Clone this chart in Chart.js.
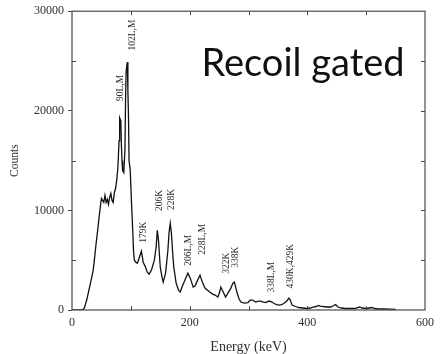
<!DOCTYPE html>
<html>
<head>
<meta charset="utf-8">
<script src="https://cdn.jsdelivr.net/npm/chart.js@4.4.0/dist/chart.umd.min.js"></script>
<style>
  html, body { margin: 0; padding: 0; background: #fff; }
  #wrap { width: 440px; height: 354px; }
</style>
</head>
<body>
<div id="wrap"><canvas id="myChart"></canvas></div>
<script>
// Spectrum: energy (keV) and counts
const energies = [0, 18, 21, 25, 28, 31, 34, 36, 38, 41, 44, 46, 48, 50, 52, 54, 56, 58, 60, 62, 64, 66, 68, 70, 72, 74, 76, 78, 80, 81, 83, 84, 85, 86, 88, 90, 91, 92, 94, 95, 96, 97, 99, 101, 103, 104.5, 106, 108.5, 111, 114, 118, 121, 125, 128, 131, 134, 136, 140, 143, 145, 147, 150, 153, 155, 159, 161, 163, 165, 167, 169, 171, 173, 177, 181, 184, 187, 192, 197, 201, 206, 209, 212, 217.6, 221.5, 226, 230, 234, 239, 243, 248, 251, 253, 257, 261, 265, 270, 273.5, 276, 280.7, 284, 287, 293, 299, 303, 307, 312, 317, 321, 325, 329, 335, 340, 343.5, 348, 352, 356, 360, 365, 368.6, 371, 374, 380, 385, 392, 399, 405, 410, 415, 419, 422, 427, 433, 440, 445, 448, 452, 458, 465, 472, 480, 486, 489, 493, 500, 505, 510, 514, 520, 530, 540, 550];
const counts = [0, 0, 200, 1000, 1800, 2600, 3400, 4000, 5000, 6700, 8200, 9300, 10300, 11200, 11000, 10800, 11500, 10800, 11100, 10600, 11300, 11700, 11000, 10800, 11800, 12200, 13000, 14300, 17000, 19300, 19000, 16500, 15000, 14000, 13800, 16000, 21000, 24000, 24900, 22000, 19500, 15000, 14000, 11000, 8300, 6000, 5000, 4800, 4700, 5200, 5900, 4800, 4300, 3800, 3600, 3900, 4200, 5000, 6300, 8000, 7000, 4300, 3300, 2800, 3700, 4800, 6000, 7800, 8700, 7700, 5800, 4300, 2700, 2000, 1800, 2300, 3000, 3700, 3200, 2300, 2400, 2800, 3500, 2800, 2200, 2000, 1800, 1600, 1500, 1300, 1800, 2300, 1800, 1300, 1700, 2200, 2700, 2800, 1700, 1100, 800, 700, 750, 1000, 1000, 800, 900, 900, 800, 750, 900, 800, 650, 550, 500, 550, 650, 900, 1200, 1000, 500, 350, 250, 200, 150, 200, 300, 350, 450, 400, 350, 300, 300, 450, 550, 300, 200, 150, 150, 150, 250, 300, 200, 150, 200, 250, 150, 100, 100, 80, 60];

// Peak labels and where they sit (energy, counts)
const peakNames = ['90L,M', '102L,M', '179K', '206K', '228K', '206L,M', '228L,M', '322K', '338K', '338L,M', '430K,429K'];
const peakLabelE = [82, 102, 121, 148, 169.5, 198, 221.5, 262, 278.5, 339, 371];
const peakLabelCounts = [22300, 27600, 7800, 11000, 11100, 6000, 7100, 4700, 5300, 3300, 4400];

const xTickValues = [0, 200, 400, 600];
const yTickValues = [0, 10000, 20000, 30000];
const xMarkValues = [100, 200, 300, 400, 500];
const yMarkValues = [5000, 10000, 15000, 20000, 25000];

const axisColor = '#4a4a4a';
const textColor = '#2e2e2e';
const serif = "'Liberation Serif', 'DejaVu Serif', serif";

// frame, inward ticks, peak labels and the big caption
const decorations = {
  id: 'decorations',
  afterDraw(chart) {
    const { ctx, chartArea: a, scales: { x, y } } = chart;
    ctx.save();
    ctx.strokeStyle = axisColor;
    ctx.lineWidth = 1.2;
    ctx.strokeRect(a.left, a.top, a.right - a.left, a.bottom - a.top);

    ctx.lineWidth = 1;
    ctx.beginPath();
    xMarkValues.forEach(v => {
      const px = Math.round(x.getPixelForValue(v)) + 0.5;
      ctx.moveTo(px, a.bottom); ctx.lineTo(px, a.bottom - 4);
      ctx.moveTo(px, a.top); ctx.lineTo(px, a.top + 4);
    });
    yMarkValues.forEach(v => {
      const py = Math.round(y.getPixelForValue(v)) + 0.5;
      ctx.moveTo(a.right, py); ctx.lineTo(a.right - 4, py);
      if (!yTickValues.includes(v)) {
        ctx.moveTo(a.left, py); ctx.lineTo(a.left + 4, py);
      }
    });
    ctx.stroke();

    // peak labels, rotated
    ctx.fillStyle = textColor;
    ctx.font = '9.5px ' + serif;
    ctx.textAlign = 'center';
    ctx.textBaseline = 'middle';
    peakNames.forEach((name, i) => {
      ctx.save();
      ctx.translate(x.getPixelForValue(peakLabelE[i]), y.getPixelForValue(peakLabelCounts[i]));
      ctx.rotate(-Math.PI / 2);
      ctx.fillText(name, 0, 0);
      ctx.restore();
    });

    // caption
    ctx.fillStyle = '#111';
    ctx.font = "38px Lato, 'Open Sans', sans-serif";
    ctx.textAlign = 'left';
    ctx.textBaseline = 'alphabetic';
    ctx.fillText('Recoil gated', x.getPixelForValue(220), y.getPixelForValue(23500));
    ctx.restore();
  }
};

const ctx = document.getElementById('myChart').getContext('2d');
const myChart = new Chart(ctx, {
  type: 'line',
  data: {
    datasets: [{
      data: energies.map((e, i) => ({ x: e, y: counts[i] })),
      borderColor: '#111',
      borderWidth: 1.3,
      pointRadius: 0,
      tension: 0,
      fill: false
    }]
  },
  options: {
    responsive: true,
    maintainAspectRatio: false,
    animation: false,
    layout: { padding: { top: 11, right: 10, left: 0, bottom: 0 } },
    plugins: {
      legend: { display: false },
      tooltip: { enabled: false }
    },
    scales: {
      x: {
        type: 'linear',
        min: 0,
        max: 600,
        border: { display: false },
        grid: { drawOnChartArea: false, drawTicks: false },
        afterBuildTicks: s => { s.ticks = xTickValues.map(v => ({ value: v })); },
        afterFit: s => { s.height = 44; },
        ticks: {
          padding: 6,
          color: textColor,
          maxRotation: 0,
          callback: v => String(v),
          font: { family: serif, size: 12 }
        },
        title: {
          display: true,
          text: 'Energy (keV)',
          color: textColor,
          padding: { top: 0, bottom: 0 },
          font: { family: serif, size: 14, lineHeight: 1 }
        }
      },
      y: {
        min: 0,
        max: 30000,
        border: { display: false },
        grid: { drawOnChartArea: false, drawTicks: true, tickLength: 4, color: axisColor },
        afterBuildTicks: s => { s.ticks = yTickValues.map(v => ({ value: v })); },
        afterFit: s => { s.width = 72; },
        ticks: {
          padding: 4,
          color: textColor,
          callback: v => String(v),
          font: { family: serif, size: 12 }
        },
        title: {
          display: true,
          text: 'Counts',
          color: textColor,
          padding: { top: 8, bottom: 0 },
          font: { family: serif, size: 11.5 }
        }
      }
    }
  },
  plugins: [decorations]
});
</script>
</body>
</html>
